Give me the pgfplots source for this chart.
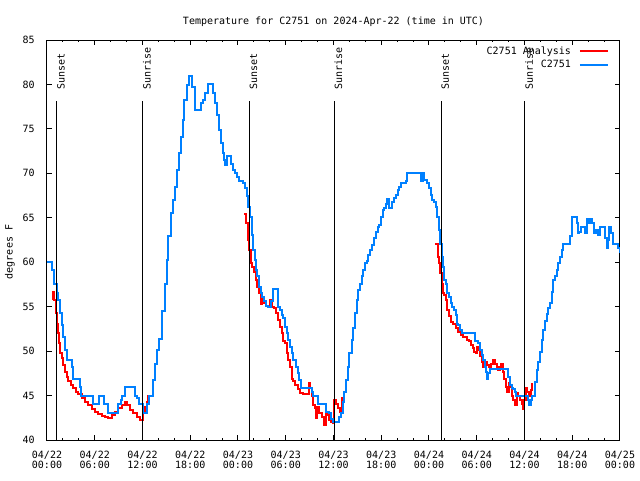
\documentclass[border=0pt]{standalone}
\usepackage{fontspec}
\setmainfont{DejaVu Sans Mono}
\usepackage{pgfplots}
\pgfplotsset{compat=1.18}
\definecolor{obsblue}{RGB}{0,128,255}
\definecolor{anared}{RGB}{255,0,0}
\newcommand{\gfont}{\fontsize{7.5}{7.6}\selectfont}
\begin{document}
\begin{tikzpicture}
% 1 px of the reference = 0.75pt
\path[use as bounding box, fill=white] (-35.25pt,-30pt) rectangle (444.75pt,330pt);
\begin{axis}[
  scale only axis, width=429.75pt, height=300pt,
  at={(0pt,0pt)}, anchor=south west,
  xmin=0, xmax=72, ymin=40, ymax=85,
  axis line style={line width=0.75pt},
  tick style={line width=0.75pt, black},
  tick align=inside,
  major tick length=3.4pt, minor tick length=1.7pt,
  xtick={0,6,...,72}, minor x tick num=2,
  ytick={40,45,...,85}, minor y tick num=0,
  xticklabels={{04/22\\00:00},{04/22\\06:00},{04/22\\12:00},{04/22\\18:00},
    {04/23\\00:00},{04/23\\06:00},{04/23\\12:00},{04/23\\18:00},
    {04/24\\00:00},{04/24\\06:00},{04/24\\12:00},{04/24\\18:00},{04/25\\00:00}},
  xticklabel style={align=center, yshift=-5pt},
  yticklabel style={xshift=-5.8pt},
  tick label style={font=\gfont},
  /pgf/number format/assume math mode=true,
  title={Temperature for C2751 on 2024-Apr-22 (time in UTC)},
  title style={at={(0.5,1)}, anchor=base, yshift=6pt, font=\gfont},
  ylabel={degrees F},
  ylabel style={at={([xshift=-27.75pt]axis description cs:0,0.47)}, anchor=center, font=\gfont},
  legend plot pos=right,
  legend cell align=right,
  legend style={at={(rel axis cs:1,1)}, anchor=north east, xshift=-8.25pt, yshift=-5pt,
    draw=none, fill=none, inner sep=0pt, outer sep=0pt, row sep=3pt,
    font=\gfont, nodes={inner sep=0pt, text height=5.6pt, text depth=1.6pt}},
  legend image code/.code={\path (0pt,0pt); \draw[#1] (6pt,0pt) -- (27pt,0pt);},
  clip mode=individual,
]

% C2751 Analysis
\addplot[const plot, color=anared, line width=1.5pt] coordinates {
 (0.67,55.9) (0.8,56.7) (0.92,55.75) (1.09,54.25) (1.22,53.1) (1.34,52) (1.51,50.9)
 (1.63,49.75) (1.85,49.2) (2.05,48.4) (2.26,47.7) (2.48,47.1) (2.68,46.6) (2.98,46.2)
 (3.3,45.8) (3.61,45.4) (3.93,45.2) (4.36,44.7) (4.78,44.3) (5.19,43.9) (5.62,43.45)
 (6.03,43.2) (6.45,42.9) (6.87,42.75) (7.29,42.55) (7.7,42.45) (8.13,42.8) (8.54,43.2)
 (8.96,43.6) (9.39,43.9) (9.8,44.3) (10.09,43.9) (10.43,43.4) (10.84,43) (11.27,42.6)
 (11.69,42.2) (11.9,42.2) (12.1,43) (12.31,43.75) (12.53,44.3) (12.73,45) (12.94,45)
};
\addlegendentry{C2751 Analysis}
\addplot[const plot, color=anared, line width=1.5pt, forget plot] coordinates {
 (24.8,65.4) (25.0,64.4) (25.22,62.5) (25.38,61.4) (25.6,59.9) (25.76,59.5) (26.01,58.9)
 (26.22,58) (26.43,57.25) (26.64,56.5) (26.85,55.3) (27.06,55.9) (27.31,55.4) (27.52,55.1)
 (27.81,55.1) (28.05,55.7) (28.24,55) (28.52,54.8) (28.78,54.25) (29.07,53.5) (29.28,52.75)
 (29.49,52) (29.7,51.1) (29.91,50.9) (30.12,49.75) (30.32,49) (30.54,48.25) (30.75,46.9)
 (30.95,46.6) (31.16,46.2) (31.5,45.7) (31.79,45.25) (32.13,45.2) (32.71,45.2) (32.92,46.45)
 (33.05,45.8) (33.26,45) (33.47,43.9) (33.68,43.6) (33.8,42.45) (33.97,43.75) (34.22,43)
 (34.52,42.6) (34.81,41.7) (35.02,43) (35.22,42.8) (35.44,42.25) (35.69,42.05) (35.9,41.9)
 (36.06,44.5) (36.32,44.05) (36.6,43.6) (36.82,43.1) (37.03,44.7) (37.15,43.75)
};
\addplot[const plot, color=anared, line width=1.5pt, forget plot] coordinates {
 (48.8,62.1) (49.05,62.1) (49.17,60.6) (49.3,59.9) (49.42,58.75) (49.6,57.6) (49.72,56.5)
 (49.89,56.3) (50.1,55.75) (50.3,54.6) (50.52,53.9) (50.73,53.3) (51.06,53.1) (51.4,52.6)
 (51.69,52.2) (51.99,51.8) (52.32,51.6) (52.74,51.25) (53.07,51.1) (53.24,50.7) (53.49,50.3)
 (53.65,49.9) (53.87,49.75) (53.99,50.5) (54.2,50.1) (54.41,49.4) (54.63,48.8) (54.76,48.25)
 (54.97,48.8) (55.25,48.4) (55.58,48.25) (55.79,48.6) (56.08,49) (56.3,48.6) (56.5,48.25)
 (56.71,47.9) (56.92,48.25) (57.04,48.6) (57.25,47.7) (57.46,46.9) (57.67,46) (57.84,45.4)
 (58.05,46.4) (58.18,46) (58.39,45) (58.6,44.5) (58.81,43.9) (59.02,45.25) (59.22,44.9)
 (59.44,44.5) (59.69,44.1) (59.85,43.45) (59.98,44.5) (60.16,45.8) (60.36,45.4) (60.57,45)
 (60.79,45.6) (60.9,46.4)
};

% C2751 observations
\addplot[const plot, color=obsblue, line width=1.5pt] coordinates {
 (0,60) (0.46,60) (0.59,59.1) (0.88,57.6) (1.22,56.5) (1.42,55.75) (1.63,54.25) (1.85,52.9)
 (2.05,51.6) (2.26,50.1) (2.48,49) (3.02,49) (3.10,48.25) (3.30,46.9) (3.86,46.9) (4.15,46)
 (4.27,45) (5.74,45) (5.82,44) (6.32,44) (6.57,45) (6.95,45) (7.16,44) (7.63,43) (8.67,43)
 (8.96,44) (9.30,44.5) (9.46,45) (9.80,46) (10.84,46) (11.06,45) (11.35,44.7) (11.60,44)
 (11.90,44) (12.10,43) (12.31,43) (12.53,44) (12.82,45) (13.07,45) (13.28,46.75) (13.58,48.6)
 (13.86,50.1) (14.11,51.4) (14.5,54.5) (14.8,57.5) (15.04,60.25) (15.25,62.9) (15.54,65.5)
 (15.79,67) (16.08,68.5) (16.3,70.4) (16.59,72.25) (16.8,74.1) (17.05,76) (17.25,78.25)
 (17.55,79.9) (17.84,81) (18.06,81) (18.26,79.75) (18.6,77.1) (19.1,77.1) (19.31,77.9)
 (19.64,78.25) (19.85,79) (20.19,80) (20.61,80) (20.82,79) (21.11,77.9) (21.4,76.56)
 (21.65,74.9) (21.87,73.4) (22.08,72.25) (22.24,71.5) (22.41,70.9) (22.66,71.95) (22.91,71.9)
 (23.08,71.1) (23.34,70.4) (23.62,70) (23.91,69.6) (24.16,69.1) (24.67,68.9) (24.88,68.3)
 (25.09,67.4) (25.3,66.25) (25.5,65.1) (25.72,63.1) (25.93,61.4) (26.14,60.25) (26.26,59.1)
 (26.43,58.4) (26.64,57.25) (26.85,56.5) (27.06,56.05) (27.31,55.6) (27.52,55.1) (27.81,55)
 (28.1,55.6) (28.44,56.95) (28.78,56.95) (28.99,55) (29.28,54.6) (29.49,54.06) (29.7,53.7)
 (29.91,52.75) (30.12,52) (30.32,51.25) (30.54,50.5) (30.75,49.75) (30.95,49) (31.25,48.25)
 (31.5,47.5) (31.7,46.75) (31.92,45.9) (33.05,45.9) (33.26,45.4) (33.47,45) (33.8,45)
 (34.0,44) (34.93,44) (35.06,43.1) (35.48,43) (35.65,42.4) (35.9,42) (36.4,42) (36.69,42.6)
 (36.94,43) (37.15,44.3) (37.36,45.4) (37.57,46.75) (37.78,48.25) (37.98,49.75) (38.29,51.25)
 (38.49,52.6) (38.7,54.25) (38.92,55.75) (39.12,56.9) (39.33,57.6) (39.55,58.4) (39.75,59.1)
 (39.96,59.9) (40.17,60.1) (40.37,60.8) (40.59,61.4) (40.8,61.9) (41,61.9) (41.13,62.7)
 (41.34,63.4) (41.56,64) (41.76,64.2) (41.97,65.1) (42.18,65.9) (42.38,66.1) (42.6,66.6)
 (42.76,67.1) (42.93,66.1) (43.19,66.1) (43.39,66.8) (43.6,67.2) (43.86,67.6) (44.07,68.1)
 (44.27,68.5) (44.48,68.95) (45.07,69.1) (45.27,70) (46.78,70) (46.95,69.1) (47.2,70)
 (47.41,69.25) (47.71,68.95) (48,68.3) (48.22,67.6) (48.42,67) (48.67,66.8) (48.88,66.25)
 (49.04,65.1) (49.22,63.6) (49.38,62.1) (49.6,60.6) (49.72,59.5) (49.89,58) (50.1,57.6)
 (50.3,56.5) (50.52,56.1) (50.73,55.4) (50.93,55) (51.14,54.6) (51.36,54.1) (51.56,53.1)
 (51.69,52.9) (51.9,52.4) (52.11,52) (53.57,52) (53.79,51.1) (54.2,50.95) (54.41,50.1)
 (54.63,49.6) (54.83,49) (55.04,48.25) (55.17,47.7) (55.33,46.9) (55.46,47.5) (55.67,47.95)
 (57.77,47.95) (57.97,47.1) (58.18,46.2) (58.39,45.8) (58.6,45.7) (58.81,45.4) (58.94,45)
 (60.28,45) (60.49,44.5) (60.62,43.9) (60.79,44.5) (60.9,45) (61.11,45) (61.32,46.5)
 (61.53,47.9) (61.74,48.8) (61.95,49.9) (62.16,51.3) (62.37,52.4) (62.58,53.4) (62.79,54.2)
 (63.0,54.8) (63.2,55.4) (63.42,56.7) (63.62,58) (63.83,58.4) (64.05,59.1) (64.25,59.9)
 (64.46,60.6) (64.68,61.4) (64.88,62.05) (65.63,62.05) (65.72,62.9) (65.94,65.05) (66.35,65.05)
 (66.56,64.4) (66.77,63.25) (66.89,63.4) (67.07,64) (67.39,64) (67.6,63.25) (67.82,64.9)
 (68.02,64.4) (68.23,64.9) (68.45,64.4) (68.74,63.25) (68.99,63.6) (69.28,63.1) (69.49,64)
 (69.91,64) (70.12,62.7) (70.33,61.6) (70.54,62.5) (70.66,64) (70.83,63.25) (71.08,62.1)
 (71.58,62.1) (71.79,61.6) (72.0,61)
};
\addlegendentry{C2751}

% sunrise / sunset markers
\foreach \t/\lab in {1.25/Sunset, 12.02/Sunrise, 25.43/Sunset, 36.1/Sunrise, 49.52/Sunset, 60.06/Sunrise} {
  \edef\tmp{\noexpand\draw[black, line width=0.75pt] (axis cs:\t,40) -- (axis cs:\t,78.1);
    \noexpand\node[rotate=90, anchor=north west, inner sep=0pt, font=\noexpand\gfont] at (axis cs:\t,79.4) {\lab};}
  \tmp
}
\end{axis}
\end{tikzpicture}
\end{document}
